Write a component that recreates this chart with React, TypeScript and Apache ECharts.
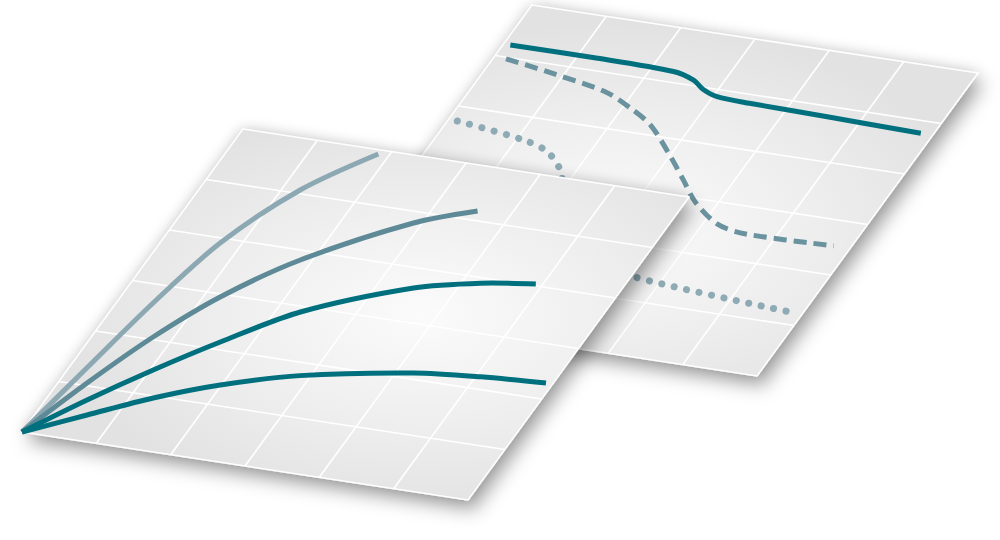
import React, { useEffect, useRef } from "react";
import * as echarts from "echarts";

// ---- axis extent / grid ticks (panel units) ----
const AXIS_MIN = 0;
const AXIS_MAX = 6;
const gridTicks = [1, 2, 3, 4, 5];

// ---- front panel curves (x, y in panel units) ----
const frontCurve1 = [[0, 0], [0.22, 1.32], [0.448, 2.655], [0.73, 3.906], [1.231, 5.068], [1.859, 5.922]];
const frontCurve2 = [[0, 0], [0.355, 1.05], [0.749, 2.049], [1.207, 2.944], [1.851, 3.821], [2.894, 4.788], [3.564, 5.176]];
const frontCurve3 = [[0, 0], [0.505, 0.747], [1.041, 1.461], [1.606, 2.142], [2.311, 2.895], [3.469, 3.63], [4.246, 3.9], [4.914, 4.033]];
const frontCurve4 = [[0, 0], [0.638, 0.48], [1.288, 0.962], [1.986, 1.376], [2.868, 1.76], [4.221, 2.116], [5.069, 2.23], [5.911, 2.297]];

// ---- back panel curves ----
const backSolid = [[0.09, 5.23], [1.2, 5.23], [2.3, 5.2], [2.62, 5.1], [2.82, 4.96], [3.05, 4.87], [3.5, 4.84], [4.6, 4.81], [5.84, 4.77]];
const backDashed = [[0.16, 4.97], [0.89, 4.83], [1.66, 4.65], [2.12, 4.42], [2.51, 4.17], [3.05, 3.64], [3.38, 3.29], [3.72, 2.93], [4.18, 2.6], [4.61, 2.5], [5.78, 2.53]];
const backDotted = [[0.12, 3.73], [1.05, 3.58], [1.46, 3.44], [1.81, 3.12], [2.3, 2.3], [2.8, 1.7], [3.59, 1.44], [5.86, 1.23]];

// ---- layout of the two sheared panels (pixels) ----
const SHEAR_U = [446, 68];
const SHEAR_W = [221, -303];
const BACK_PANEL = { idx: 0, origin: [311, 308] };
const FRONT_PANEL = { idx: 1, origin: [22, 432] };

type Panel = { idx: number; origin: number[] };

function project(params: any, api: any, p: number[], panel: Panel) {
  const c = api.coord(p);
  const cs = params.coordSys;
  const s = (c[0] - cs.x) / cs.width;
  const t = (cs.y + cs.height - c[1]) / cs.height;
  return [
    panel.origin[0] + s * SHEAR_U[0] + t * SHEAR_W[0],
    panel.origin[1] + s * SHEAR_U[1] + t * SHEAR_W[1],
  ];
}

function panelSeries(panel: Panel, z: number, grad: { x: number; y: number; r: number }) {
  return {
    type: "custom",
    coordinateSystem: "cartesian2d",
    xAxisIndex: panel.idx,
    yAxisIndex: panel.idx,
    z,
    silent: true,
    data: [[AXIS_MIN, AXIS_MIN]],
    renderItem: (params: any, api: any) => {
      const corners = [
        [AXIS_MIN, AXIS_MIN],
        [AXIS_MAX, AXIS_MIN],
        [AXIS_MAX, AXIS_MAX],
        [AXIS_MIN, AXIS_MAX],
      ].map((p) => project(params, api, p, panel));
      const children: any[] = [
        {
          type: "polygon",
          shape: { points: corners },
          style: {
            fill: "#e6e6e6",
            shadowBlur: 14,
            shadowOffsetX: 0,
            shadowOffsetY: 0,
            shadowColor: "rgba(0,0,0,0.18)",
          },
        },
        {
          type: "polygon",
          shape: { points: corners },
          style: {
            fill: {
              type: "radial",
              x: grad.x,
              y: grad.y,
              r: grad.r,
              colorStops: [
                { offset: 0, color: "#fbfbfb" },
                { offset: 0.55, color: "#eeeeee" },
                { offset: 1, color: "#e2e2e2" },
              ],
            },
            stroke: "#ffffff",
            lineWidth: 1.5,
            shadowBlur: 18,
            shadowOffsetX: 6,
            shadowOffsetY: 10,
            shadowColor: "rgba(0,0,0,0.32)",
          },
        },
      ];
      gridTicks.forEach((v) => {
        const a = project(params, api, [v, AXIS_MIN], panel);
        const b = project(params, api, [v, AXIS_MAX], panel);
        children.push({
          type: "line",
          shape: { x1: a[0], y1: a[1], x2: b[0], y2: b[1] },
          style: { stroke: "#ffffff", lineWidth: 1.6 },
        });
        const c = project(params, api, [AXIS_MIN, v], panel);
        const d = project(params, api, [AXIS_MAX, v], panel);
        children.push({
          type: "line",
          shape: { x1: c[0], y1: c[1], x2: d[0], y2: d[1] },
          style: { stroke: "#ffffff", lineWidth: 1.6 },
        });
      });
      return { type: "group", children };
    },
  };
}

function curveSeries(data: number[][], panel: Panel, z: number, style: any, smooth = 0.3) {
  return {
    type: "custom",
    coordinateSystem: "cartesian2d",
    xAxisIndex: panel.idx,
    yAxisIndex: panel.idx,
    z,
    silent: true,
    data,
    renderItem: (params: any, api: any) => {
      if (params.dataIndex !== 0) return null;
      const pts = data.map((p) => project(params, api, p, panel));
      return {
        type: "polyline",
        shape: { points: pts, smooth },
        style: { fill: null, ...style },
      };
    },
  };
}

const TEAL = "#00707e";

export default function App() {
  const ref = useRef<HTMLDivElement>(null);
  useEffect(() => {
    document.body.style.margin = "0";
    const chart = echarts.init(ref.current!, null, { renderer: "svg" });
    const axisCommon = { type: "value", min: AXIS_MIN, max: AXIS_MAX, interval: 1, show: false };
    chart.setOption({
      animation: false,
      backgroundColor: "#ffffff",
      grid: [
        { left: 100, top: 100, width: 300, height: 300, show: false },
        { left: 100, top: 100, width: 300, height: 300, show: false },
      ],
      xAxis: [
        { ...axisCommon, gridIndex: 0 },
        { ...axisCommon, gridIndex: 1 },
      ],
      yAxis: [
        { ...axisCommon, gridIndex: 0 },
        { ...axisCommon, gridIndex: 1 },
      ],
      series: [
        panelSeries(BACK_PANEL, 1, { x: 0.45, y: 0.6, r: 0.55 }),
        curveSeries(backDotted, BACK_PANEL, 2, {
          stroke: "#8eaab5",
          lineWidth: 7,
          lineCap: "round",
          lineDash: [0.1, 12.6],
        }),
        curveSeries(backDashed, BACK_PANEL, 2, {
          stroke: "#6b939f",
          lineWidth: 5,
          lineDash: [13, 7],
        }),
        curveSeries(backSolid, BACK_PANEL, 2, { stroke: TEAL, lineWidth: 5 }),
        panelSeries(FRONT_PANEL, 3, { x: 0.6, y: 0.5, r: 0.55 }),
        curveSeries(frontCurve1, FRONT_PANEL, 4, { stroke: "#8ca8b2", lineWidth: 5 }),
        curveSeries(frontCurve2, FRONT_PANEL, 4, { stroke: "#5d8a96", lineWidth: 5 }),
        curveSeries(frontCurve3, FRONT_PANEL, 4, { stroke: TEAL, lineWidth: 5 }),
        curveSeries(frontCurve4, FRONT_PANEL, 4, { stroke: TEAL, lineWidth: 5 }),
      ],
    });
    return () => chart.dispose();
  }, []);
  return (
    <div
      ref={ref}
      style={{ position: "absolute", left: 0, top: 0, width: 1000, height: 540 }}
    />
  );
}
